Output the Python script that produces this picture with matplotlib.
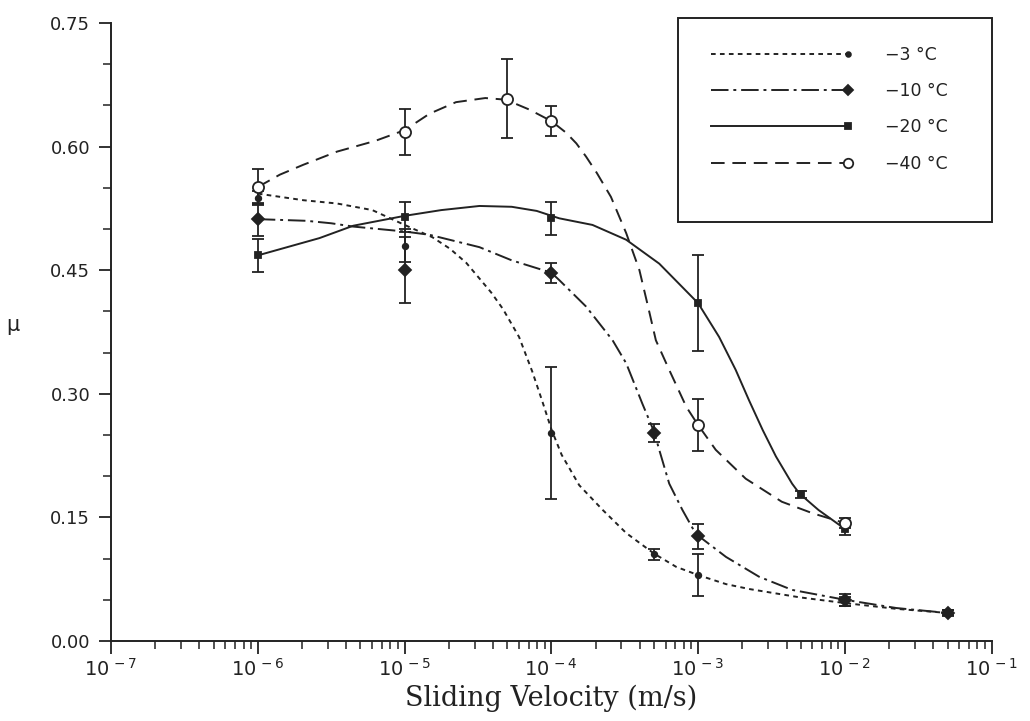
import numpy as np
import matplotlib
matplotlib.use("Agg")
import matplotlib.pyplot as plt
from matplotlib.lines import Line2D
from matplotlib.patches import Rectangle
from matplotlib.legend_handler import HandlerLine2D
from matplotlib.ticker import (LogLocator, MultipleLocator, FormatStrFormatter,
                               FuncFormatter, NullFormatter)

# measured points (velocity m/s, friction coefficient, half error bar)
v_m3 = [1e-6, 1e-5, 1e-4, 5e-4, 1e-3, 1e-2, 5e-2]
mu_m3 = [0.538, 0.48, 0.252, 0.105, 0.08, 0.048, 0.034]
err_m3 = [0.008, 0.02, 0.08, 0.007, 0.025, 0.005, 0.003]

v_m10 = [1e-6, 1e-5, 1e-4, 5e-4, 1e-3, 1e-2, 5e-2]
mu_m10 = [0.512, 0.45, 0.447, 0.252, 0.127, 0.05, 0.034]
err_m10 = [0.02, 0.04, 0.012, 0.011, 0.015, 0.007, 0.004]

v_m20 = [1e-6, 1e-5, 1e-4, 1e-3, 5e-3, 1e-2]
mu_m20 = [0.468, 0.515, 0.513, 0.41, 0.178, 0.136]
err_m20 = [0.02, 0.018, 0.02, 0.058, 0.004, 0.007]

v_m40 = [1e-6, 1e-5, 5e-5, 1e-4, 1e-3, 1e-2]
mu_m40 = [0.551, 0.618, 0.658, 0.631, 0.262, 0.143]
err_m40 = [0.022, 0.028, 0.048, 0.018, 0.032, 0.006]

# fitted curves (log10 velocity, mu)
fit_m3_logv = [-6.0, -5.69, -5.46, -5.22, -5.0, -4.81, -4.69, -4.58, -4.49, -4.41,
               -4.33, -4.22, -4.13, -4.06, -4.0, -3.93, -3.81, -3.65, -3.49, -3.3,
               -3.15, -3.0, -2.81, -2.65, -2.31, -2.0, -1.65, -1.3]
fit_m3_mu = [0.543, 0.535, 0.531, 0.523, 0.505, 0.49, 0.476, 0.459, 0.44, 0.423,
             0.403, 0.369, 0.327, 0.29, 0.257, 0.226, 0.189, 0.159, 0.131, 0.106,
             0.09, 0.08, 0.069, 0.063, 0.053, 0.046, 0.039, 0.034]

fit_m10_logv = [-6.0, -5.67, -5.5, -5.35, -5.0, -4.83, -4.49, -4.27, -4.0, -3.946,
                -3.764, -3.583, -3.49, -3.38, -3.3, -3.265, -3.197, -3.107, -3.016,
                -2.81, -2.585, -2.36, -2.0, -1.65, -1.3]
fit_m10_mu = [0.512, 0.51, 0.507, 0.503, 0.497, 0.493, 0.478, 0.462, 0.447, 0.438,
              0.406, 0.365, 0.337, 0.288, 0.254, 0.232, 0.191, 0.159, 0.13,
              0.102, 0.078, 0.062, 0.05, 0.04, 0.034]

fit_m20_logv = [-6.0, -5.58, -5.35, -5.0, -4.75, -4.49, -4.27, -4.1, -3.946, -3.72,
                -3.49, -3.265, -3.0, -2.857, -2.744, -2.653, -2.56, -2.47, -2.36,
                -2.31, -2.18, -2.0]
fit_m20_mu = [0.468, 0.489, 0.504, 0.516, 0.523, 0.528, 0.527, 0.522, 0.513, 0.505,
              0.487, 0.458, 0.41, 0.369, 0.329, 0.292, 0.256, 0.224, 0.191,
              0.179, 0.159, 0.136]

fit_m40_logv = [-6.0, -5.85, -5.69, -5.46, -5.2, -5.0, -4.83, -4.65, -4.45, -4.31,
                -4.15, -4.0, -3.9, -3.83, -3.764, -3.69, -3.594, -3.49, -3.4, -3.34,
                -3.288, -3.197, -3.08, -3.0, -2.88, -2.676, -2.43, -2.22, -2.0]
fit_m40_mu = [0.551, 0.566, 0.578, 0.594, 0.607, 0.62, 0.64, 0.654, 0.659, 0.657,
              0.645, 0.631, 0.617, 0.604, 0.588, 0.568, 0.539, 0.495, 0.45, 0.405,
              0.365, 0.329, 0.284, 0.262, 0.232, 0.197, 0.169, 0.155, 0.143]

xtick_exp = [-7, -6, -5, -4, -3, -2, -1]
labels = ["\u22123 \u00b0C", "\u221210 \u00b0C", "\u221220 \u00b0C", "\u221240 \u00b0C"]


class EndMarkerHandler(HandlerLine2D):
    # legend line with the marker only at the right end
    def create_artists(self, *args, **kwargs):
        arts = super().create_artists(*args, **kwargs)
        for a in arts:
            a.set_markevery([-1])
        return arts


plt.rcParams['font.family'] = ['DejaVu Sans']
plt.rcParams['mathtext.fontset'] = 'dejavusans'
ink = '#222222'

fig = plt.figure(figsize=(10.3, 7.21), dpi=100)
ax = fig.add_axes([0.1078, 0.111, 0.855, 0.857])

lw = 1.4
styles = [
    dict(ls=(0, (2.4, 2.2)), marker='o', ms=4, mfc=ink, mec=ink),
    dict(ls=(0, (9, 2.5, 1.5, 2.5)), marker='D', ms=6, mfc=ink, mec=ink),
    dict(ls='-', marker='s', ms=5, mfc=ink, mec=ink),
    dict(ls=(0, (7, 4)), marker='o', ms=8, mfc='white', mec=ink),
]
series = [
    (v_m3, mu_m3, err_m3, fit_m3_logv, fit_m3_mu),
    (v_m10, mu_m10, err_m10, fit_m10_logv, fit_m10_mu),
    (v_m20, mu_m20, err_m20, fit_m20_logv, fit_m20_mu),
    (v_m40, mu_m40, err_m40, fit_m40_logv, fit_m40_mu),
]

handles = []
for (v, mu, err, flog, fmu), st, lab in zip(series, styles, labels):
    ax.plot(10.0 ** np.asarray(flog), fmu, color=ink, lw=lw, ls=st['ls'],
            dash_capstyle='butt', solid_joinstyle='round', zorder=2)
    ax.errorbar(v, mu, yerr=err, fmt='none', ecolor=ink, elinewidth=1.3,
                capsize=4.5, capthick=1.3, zorder=3)
    ax.plot(v, mu, ls='none', marker=st['marker'], ms=st['ms'], mfc=st['mfc'],
            mec=st['mec'], mew=1.3, zorder=4)
    handles.append(Line2D([0, 1], [0, 0], color=ink, lw=lw, ls=st['ls'],
                          marker=st['marker'], ms=st['ms'] * 0.85, mfc=st['mfc'],
                          mec=st['mec'], mew=1.3, label=lab))

ax.set_xscale('log')
ax.set_xlim(1e-7, 1e-1)
ax.set_ylim(0, 0.75)
ax.set_xticks([10.0 ** e for e in xtick_exp])
ax.xaxis.set_minor_locator(LogLocator(base=10, subs=np.arange(2, 10), numticks=20))
ax.xaxis.set_major_formatter(
    FuncFormatter(lambda x, pos: r'$10^{\,%d}$' % round(np.log10(x))))
ax.xaxis.set_minor_formatter(NullFormatter())
ax.yaxis.set_major_locator(MultipleLocator(0.15))
ax.yaxis.set_minor_locator(MultipleLocator(0.05))
ax.yaxis.set_major_formatter(FormatStrFormatter('%.2f'))

for side in ['top', 'right']:
    ax.spines[side].set_visible(False)
for side in ['left', 'bottom']:
    ax.spines[side].set_linewidth(1.4)
    ax.spines[side].set_color(ink)

ax.tick_params(which='major', direction='out', length=9, width=1.3, color=ink,
               labelsize=13, labelcolor=ink)
ax.tick_params(axis='y', which='major', pad=6)
ax.tick_params(axis='x', which='major', pad=3, labelsize=14)
ax.tick_params(which='minor', direction='out', length=6, width=1.1, color=ink)

ax.set_xlabel('Sliding Velocity (m/s)', family='DejaVu Serif', fontsize=19.5,
              color=ink, labelpad=4)
ax.set_ylabel('\u03bc', rotation=0, fontsize=15, color=ink)
ax.yaxis.set_label_coords(-0.112, 0.495)

# legend box
ax.add_patch(Rectangle((0.644, 0.678), 0.356, 0.330, transform=ax.transAxes,
                       fill=False, ec=ink, lw=1.4, clip_on=False, zorder=5))
leg = ax.legend(handles=handles, loc='upper left', bbox_to_anchor=(0.644, 1.008),
                handler_map={Line2D: EndMarkerHandler()}, numpoints=2,
                handlelength=8.5, handletextpad=1.8, labelspacing=1.05,
                borderpad=1.6, borderaxespad=0, fontsize=12.5, frameon=False)
for t in leg.get_texts():
    t.set_color(ink)

fig.savefig('out.png', dpi=100, facecolor='white')
